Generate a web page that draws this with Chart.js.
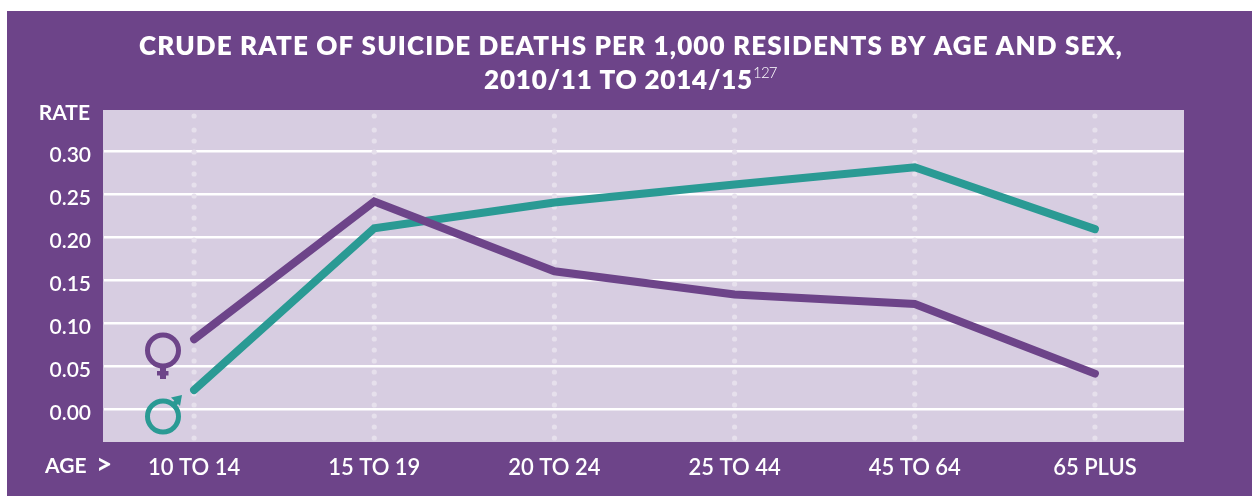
<!DOCTYPE html>
<html><head><meta charset="utf-8">
<style>html,body{margin:0;padding:0;background:#fff}canvas{display:block}</style>
<script src="https://cdn.jsdelivr.net/npm/chart.js@4"></script></head>
<body><div style="position:relative;width:1252px;height:496px"><canvas id="c" width="1252" height="496"></canvas></div>
<script>
const categories=["10 TO 14","15 TO 19","20 TO 24","25 TO 44","45 TO 64","65 PLUS"];
const female=[0.082,0.242,0.161,0.134,0.123,0.042];
const male=[0.023,0.211,0.241,0.262,0.282,0.210];
const yTicks=[0,0.05,0.10,0.15,0.20,0.25,0.30];
const titleLines=["CRUDE RATE OF SUICIDE DEATHS PER 1,000 RESIDENTS BY AGE AND SEX,","2010/11 TO 2014/15"];
const PURPLE="#6d4489",TEAL="#2a9a94",PLOT="#d7cde1",DOT="#e6e0ec";
const FONT="Lato, 'Open Sans', sans-serif";
const deco={id:"deco",
 beforeDraw(ch){const c=ch.ctx,a=ch.chartArea;c.save();
  c.fillStyle="#fff";c.fillRect(0,0,1252,496);
  c.fillStyle=PURPLE;c.fillRect(7,11,1245,485);
  c.fillStyle=PLOT;c.fillRect(a.left-1,a.top,a.right-a.left,a.bottom-a.top);c.restore();},
 beforeDatasetsDraw(ch){const c=ch.ctx,a=ch.chartArea,x=ch.scales.x;c.save();
  c.fillStyle=PURPLE;c.fillRect(a.right-1,a.top,3,a.bottom-a.top);
  c.fillStyle=DOT;
  categories.forEach((n,i)=>{const px=x.getPixelForValue(i);
   for(let y=a.bottom-4;y>a.top+16;y-=11){c.beginPath();c.arc(px,y,2.6,0,7);c.fill();}
   c.beginPath();c.arc(px,a.top+6,2.6,0,7);c.fill();});
  c.restore();},
 afterDraw(ch){const c=ch.ctx;c.save();c.fillStyle="#fff";c.textBaseline="middle";
  c.font="800 26px "+FONT;c.textAlign="center";c.letterSpacing="1.15px";
  c.fillText(titleLines[0],631,47);
  c.letterSpacing="0.8px";
  c.fillText(titleLines[1],618.5,81);
  c.letterSpacing="0px";
  c.font="700 21px "+FONT;c.textAlign="right";c.fillText("RATE",90,113);
  c.textAlign="left";c.fillText("AGE",45,466);
  c.font="700 28px "+FONT;c.fillText(">",96,465);
  c.font="300 15px "+FONT;c.letterSpacing="-0.8px";c.fillText("127",753,73);c.letterSpacing="0px";
  // female symbol
  c.strokeStyle=PURPLE;c.fillStyle=PURPLE;c.lineWidth=5;
  c.beginPath();c.arc(163,350.5,15.5,0,7);c.stroke();
  c.fillRect(160,366,6,13);c.fillRect(157,371,11.5,4.5);
  // male symbol
  c.strokeStyle=TEAL;c.fillStyle=TEAL;
  c.beginPath();c.arc(163,416.5,15.5,0,7);c.stroke();
  c.lineWidth=5;c.beginPath();c.moveTo(172,407);c.lineTo(178,400);c.stroke();
  c.beginPath();c.moveTo(182,395);c.lineTo(171,397.5);c.lineTo(180,406);c.closePath();c.fill();
  c.restore();}
};
new Chart(document.getElementById("c"),{type:"line",plugins:[deco],
 data:{labels:categories,datasets:[
  {label:"Male",data:male,borderColor:TEAL,borderWidth:8,pointRadius:0,tension:0,borderCapStyle:"round",borderJoinStyle:"miter",order:2},
  {label:"Female",data:female,borderColor:PURPLE,borderWidth:8,pointRadius:0,tension:0,borderCapStyle:"round",borderJoinStyle:"miter",order:1}]},
 options:{responsive:false,animation:false,
  layout:{padding:{left:0,right:67,top:110,bottom:0}},
  plugins:{legend:{display:false},tooltip:{enabled:false},title:{display:false}},
  scales:{
   x:{type:"category",offset:true,grid:{display:false},border:{display:false},
    ticks:{color:"#fff",font:{family:FONT,size:22,weight:"600"},padding:5,maxRotation:0,autoSkip:false},
    afterFit(s){s.height=54;}},
   y:{min:-0.0375,max:0.3485,grid:{color:"#fff",lineWidth:2.5,drawTicks:false},border:{display:false},
    ticks:{color:"#fff",font:{family:FONT,size:21,weight:"600",lineHeight:0.333},padding:13,callback:v=>["",v.toFixed(2)]},
    afterBuildTicks(s){s.ticks=yTicks.map(value=>({value}));},
    afterFit(s){s.width=104;}}
  }}});
</script></body></html>
